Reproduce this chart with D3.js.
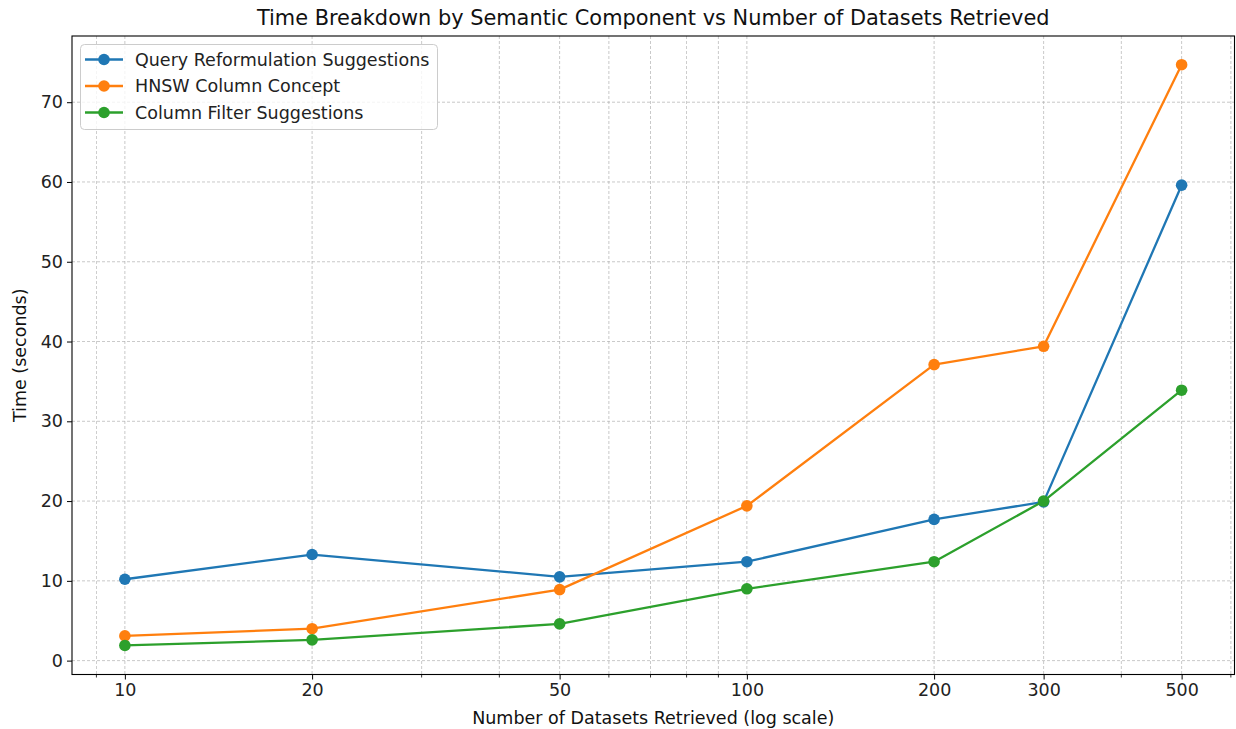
<!DOCTYPE html>
<html><head><meta charset="utf-8">
<script src="https://cdn.jsdelivr.net/npm/d3@7"></script>
<style>body{margin:0;background:#fff}svg{display:block;font-family:"DejaVu Sans",sans-serif}</style>
</head><body><svg id="c" width="1236" height="729"></svg>
<script>
const datasets = [10, 20, 50, 100, 200, 300, 500];
const queryReform = [10.2, 13.3, 10.5, 12.4, 17.7, 19.9, 59.6];
const hnswConcept = [3.1, 4.0, 8.9, 19.4, 37.1, 39.4, 74.7];
const columnFilter = [1.9, 2.6, 4.6, 9.0, 12.4, 20.0, 33.9];
const seriesNames = ["Query Reformulation Suggestions", "HNSW Column Concept", "Column Filter Suggestions"];
const seriesColors = ["#1f77b4", "#ff7f0e", "#2ca02c"];
const xTickLabels = [10, 20, 50, 100, 200, 300, 500];
const yTicks = [0, 10, 20, 30, 40, 50, 60, 70];

const FS = 17.5;
const svg = d3.select("#c");
const L = 72, R = 1234.5, T = 36, B = 674.5;
const x = d3.scaleLog().domain([Math.pow(10, 0.915), Math.pow(10, 2.784)]).range([L, R]);
const y = d3.scaleLinear().domain([-1.74, 78.3]).range([B, T]);

const minor = [];
[1, 10, 100].forEach(d => { for (let k = 2; k <= 9; k++) minor.push(d * k); });
const minorIn = minor.filter(v => v >= x.domain()[0] && v <= x.domain()[1]);
const allX = Array.from(new Set(minorIn.concat(xTickLabels))).sort((a,b)=>a-b);

const g = svg.append("g");
g.selectAll(".gx").data(allX).enter().append("line")
  .attr("x1", d => x(d)).attr("x2", d => x(d)).attr("y1", T).attr("y2", B)
  .attr("stroke", "#b0b0b0").attr("stroke-width", 0.8).attr("stroke-dasharray", "3,2").attr("opacity", 0.85);
g.selectAll(".gy").data(yTicks).enter().append("line")
  .attr("x1", L).attr("x2", R).attr("y1", d => y(d)).attr("y2", d => y(d))
  .attr("stroke", "#b0b0b0").attr("stroke-width", 0.8).attr("stroke-dasharray", "3,2").attr("opacity", 0.85);

const xAxis = d3.axisBottom(x).tickValues(xTickLabels).tickFormat(d3.format("d")).tickSize(5).tickPadding(4);
const xa = svg.append("g").attr("transform", `translate(0,${B})`).call(xAxis);
xa.select(".domain").remove();
xa.selectAll("text").attr("font-size", FS).attr("fill", "#222").attr("font-family", "DejaVu Sans");
xa.selectAll("line").attr("stroke", "#000").attr("stroke-width", 1);
svg.append("g").selectAll("line").data(minorIn.filter(v => !xTickLabels.includes(v))).enter().append("line")
  .attr("x1", d => x(d)).attr("x2", d => x(d)).attr("y1", B).attr("y2", B + 3).attr("stroke", "#000").attr("stroke-width", 0.8);

const yAxis = d3.axisLeft(y).tickValues(yTicks).tickSize(5).tickPadding(4);
const ya = svg.append("g").attr("transform", `translate(${L},0)`).call(yAxis);
ya.select(".domain").remove();
ya.selectAll("text").attr("font-size", FS).attr("fill", "#222").attr("font-family", "DejaVu Sans");
ya.selectAll("line").attr("stroke", "#000").attr("stroke-width", 1);

svg.append("rect").attr("x", L).attr("y", T).attr("width", R - L).attr("height", B - T)
  .attr("fill", "none").attr("stroke", "#000").attr("stroke-width", 1.1);

const allSeries = [queryReform, hnswConcept, columnFilter];
const line = d3.line().x((d, i) => x(datasets[i])).y(d => y(d));
allSeries.forEach((s, k) => {
  svg.append("path").datum(s).attr("d", line).attr("fill", "none")
    .attr("stroke", seriesColors[k]).attr("stroke-width", 2.3).attr("stroke-linejoin", "round");
  svg.append("g").selectAll("circle").data(s).enter().append("circle")
    .attr("cx", (d, i) => x(datasets[i])).attr("cy", d => y(d)).attr("r", 5.8).attr("fill", seriesColors[k]);
});

svg.append("text").attr("x", (L + R) / 2).attr("y", 25).attr("text-anchor", "middle")
  .attr("font-size", 20.9).attr("fill", "#111").text("Time Breakdown by Semantic Component vs Number of Datasets Retrieved");
svg.append("text").attr("x", (L + R) / 2).attr("y", 724).attr("text-anchor", "middle")
  .attr("font-size", FS).attr("fill", "#111").text("Number of Datasets Retrieved (log scale)");
svg.append("text").attr("transform", `translate(26,${(T + B) / 2}) rotate(-90)`).attr("text-anchor", "middle")
  .attr("font-size", FS).attr("fill", "#111").text("Time (seconds)");

const lg = svg.append("g");
lg.append("rect").attr("x", 80.5).attr("y", 44.5).attr("width", 357).attr("height", 85).attr("rx", 4)
  .attr("fill", "#fff").attr("fill-opacity", 0.8).attr("stroke", "#ccc").attr("stroke-width", 1);
seriesNames.forEach((n, k) => {
  const yy = 59.5 + k * 26.5;
  lg.append("line").attr("x1", 85).attr("x2", 123).attr("y1", yy).attr("y2", yy)
    .attr("stroke", seriesColors[k]).attr("stroke-width", 2.3);
  lg.append("circle").attr("cx", 104).attr("cy", yy).attr("r", 5.8).attr("fill", seriesColors[k]);
  lg.append("text").attr("x", 135).attr("y", yy + 6).attr("font-size", FS).attr("fill", "#222").text(n);
});
</script></body></html>
